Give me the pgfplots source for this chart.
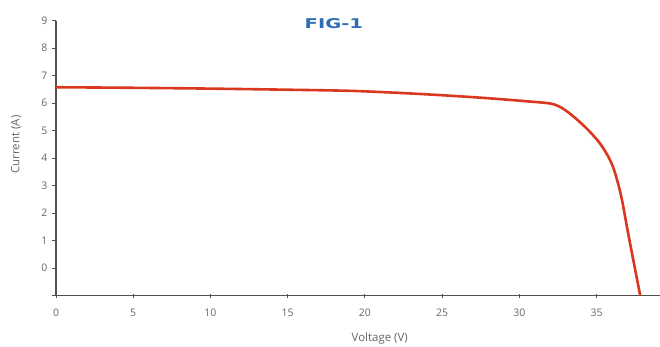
\documentclass[border=0pt]{standalone}
\usepackage{pgfplots}
\pgfplotsset{compat=1.18}
\usepackage{fontspec}
\setmainfont{Open Sans}[BoldFont={Open Sans Semibold}]
\newfontfamily\titlefont{DejaVu Sans}
\definecolor{axgray}{HTML}{505050}
\definecolor{txtgray}{HTML}{666666}
\definecolor{curvered}{HTML}{D9381E}
\definecolor{titleblue}{HTML}{2E6DB8}
\begin{document}
\begin{tikzpicture}
\useasboundingbox (-56bp,-51.3bp) rectangle (604bp,295.7bp);
\begin{axis}[
  at={(0,0)}, anchor=south west,
  scale only axis,
  width=604bp, height=275bp,
  xmin=0, xmax=39.1,
  ymin=-1, ymax=9,
  axis lines=left,
  axis line style={axgray, line width=1.3bp, -},
  xtick={0,5,...,35},
  ytick={-1,0,...,9},
  yticklabels={,0,1,2,3,4,5,6,7,8,9},
  tick style={axgray, line width=1bp},
  major tick length=4bp,
  ytick align=outside,
  xtick align=center,
  every tick label/.style={font=\fontsize{10.5}{12}\selectfont, text=txtgray},
  /pgf/number format/assume math mode=true,
  xticklabel style={yshift=-8bp},
  yticklabel style={xshift=-1bp},
  clip=false,
]
\addplot[curvered, line width=2.6bp, smooth, tension=0.5] coordinates {
(0,6.58) (5,6.56) (10,6.53) (15,6.49) (19,6.45) (22,6.38) (25,6.29)
(28,6.18) (30.68,6.06) (31.97,5.99) (32.62,5.87) (33.27,5.62) (33.92,5.31)
(34.56,4.96) (35.21,4.54) (35.75,4.06) (36.1,3.62) (36.4,3.05)
(36.65,2.45) (37.0,1.38) (37.37,0.30) (37.82,-1)
};
\node[text=txtgray, font=\fontsize{11.5}{13}\selectfont, rotate=90]
  at (axis description cs:-0.066,0.55) {Current (A)};
\node[text=txtgray, font=\fontsize{11.5}{13}\selectfont]
  at (axis description cs:0.536,-0.155) {Voltage (V)};
\node[text=titleblue, font=\titlefont\bfseries\fontsize{13.5}{15}\selectfont]
  at (axis description cs:0.46,0.99) {\scalebox{1.45}[1]{FIG-1}};
\end{axis}
\end{tikzpicture}
\end{document}
